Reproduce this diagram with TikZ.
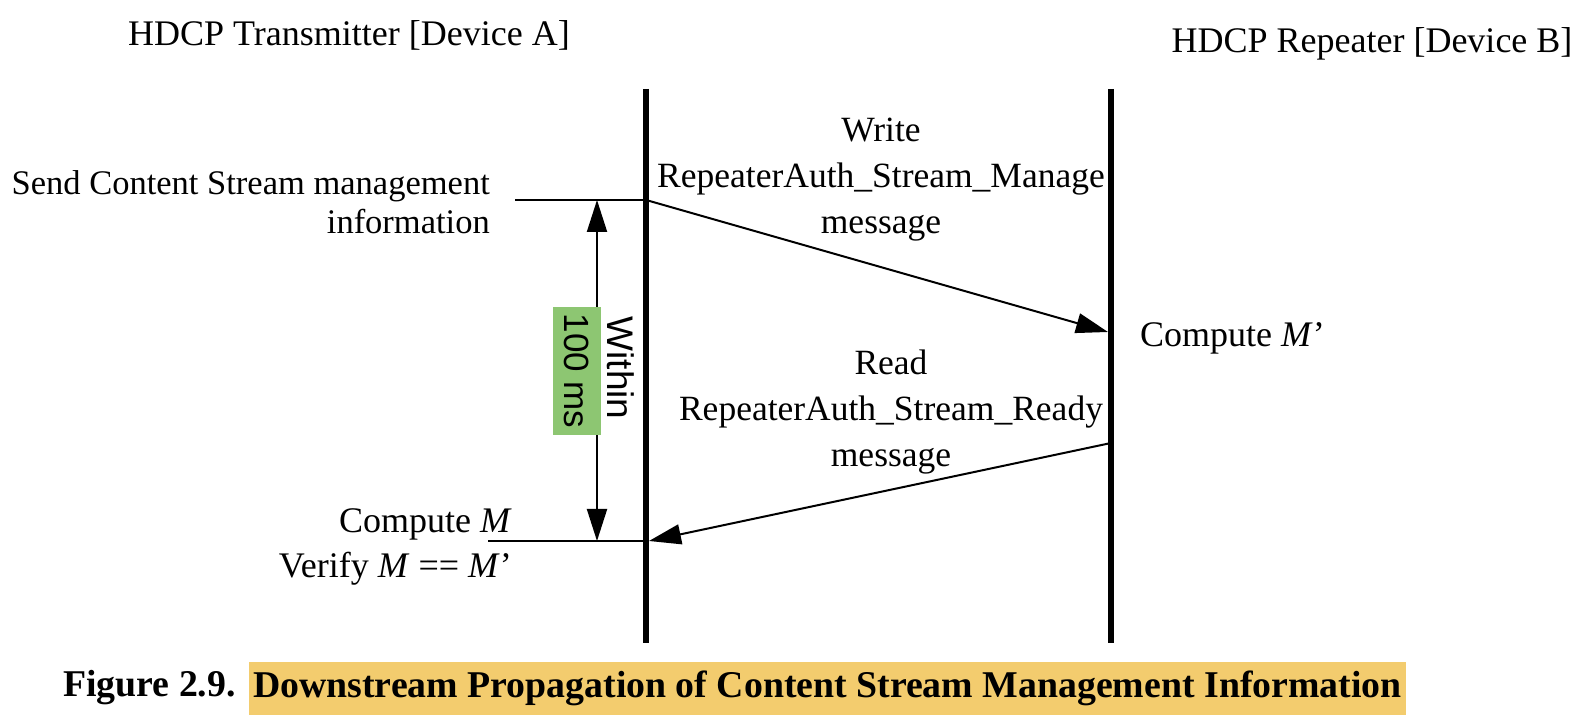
\documentclass[tikz,border=0pt]{standalone}
\usepackage{fontspec}
\setmainfont{Liberation Serif}
\setsansfont{Liberation Sans}
\usetikzlibrary{arrows.meta,positioning}
\definecolor{timegreen}{RGB}{141,198,114}
\definecolor{capyellow}{RGB}{243,204,110}

\begin{document}
\begin{tikzpicture}[%
x=1pt, y=1pt,
>={Triangle[length=32pt,width=20pt]},
inner sep=0pt,
align=center,
font=\fontsize{36}{46}\selectfont,
lifeline/.style={line width=6pt},
msg/.style={->, line width=2pt}
]
\useasboundingbox (0,0) rectangle (1588,718);
% lifelines
\coordinate (a0) at (646,629);
\coordinate (a1) at (646,75);
\coordinate (b0) at (1111,629);
\coordinate (b1) at (1111,75);
\draw[lifeline] (a0) -- (a1);
\draw[lifeline] (b0) -- (b1);
\node (0) at (349,683) {HDCP Transmitter [Device A]};
\node (1) at (1372,674) {HDCP Repeater [Device B]};
% events
\node[anchor=east, align=right, font=\fontsize{34.5}{39}\selectfont] (2) at (490,516) {Send Content Stream management\\information};
\node[anchor=east, align=right, font=\fontsize{36}{45}\selectfont] (3) at (512,171) {Compute \textit{M}\\Verify \textit{M} == \textit{M}’};
\node[anchor=west] (4) at (1140,380) {Compute \textit{M}’};
\coordinate (s0) at (515,518);
\coordinate (s1) at (646,518);
\coordinate (v0) at (488,177);
\coordinate (v1) at (649,177);
\coordinate (m1) at (1108,386);
\coordinate (r0) at (1111,275);
\draw[line width=2pt] (s0) -- (s1);
\draw[line width=2pt] (v0) -- (a0 |- v0);
% messages
\draw[msg] (s1) -- (m1);
\draw[msg] (r0) -- (v1);
\node[font=\fontsize{35.5}{46}\selectfont] (5) at (881,538) {Write\\RepeaterAuth\_Stream\_Manage\\message};
\node[font=\fontsize{35.5}{46}\selectfont] (6) at (891,306) {Read\\RepeaterAuth\_Stream\_Ready\\message};
% timing
\coordinate (t0) at (597,518);
\coordinate (t1) at (597,177);
\draw[<->, line width=2pt] (t0) -- (t1);
\node[rotate=-90, fill=timegreen, minimum width=128, minimum height=48, font=\sffamily\fontsize{35}{40}\selectfont] (7) at (577,347) {100 ms};
\node[rotate=-90, font=\sffamily\fontsize{37}{40}\selectfont] (8) at (621,350) {Within};
% caption
\node[anchor=west, font=\bfseries\fontsize{37.8}{40}\selectfont] (9) at (63,30) {Figure 2.9.};
\node[fill=capyellow, minimum height=53, inner xsep=4pt, font=\bfseries\fontsize{37.8}{40}\selectfont] (10) [right=13pt of 9] {Downstream Propagation of Content Stream Management Information};
\end{tikzpicture}
\end{document}
